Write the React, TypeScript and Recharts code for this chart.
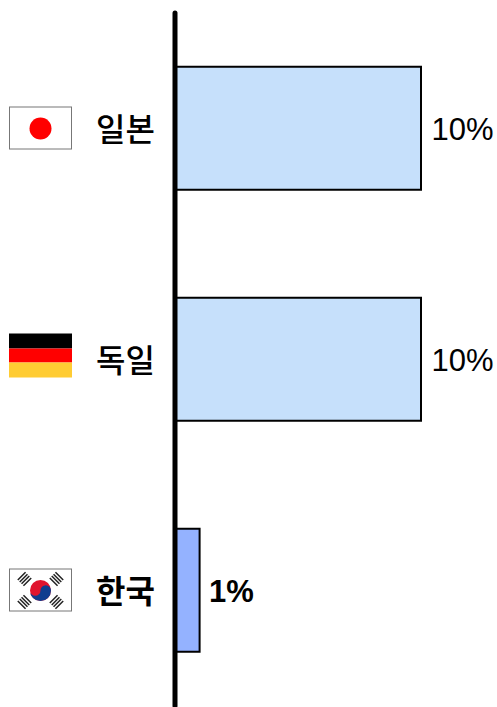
import React from "react";
import { BarChart, Bar, XAxis, YAxis, Cell, LabelList } from "recharts";

const countries = ["일본", "독일", "한국"];
const flagCodes = ["jp", "de", "kr"];
const shares = [10, 10, 1];
const fills = ["#c6e0fb", "#c6e0fb", "#94b2ff"];
const highlighted = "한국";

const data = countries.map((name, i) => ({ name, share: shares[i], flag: flagCodes[i] }));
const FONT = "'Liberation Sans', 'Noto Sans CJK KR', sans-serif";

function Trigram({ cx, cy, angle }: { cx: number; cy: number; angle: number }) {
  return (
    <g transform={`rotate(${angle} ${cx} ${cy})`}>
      {[-4, -1.3, 1.3, 4].map((d) => (
        <line key={d} x1={cx - 5.5} x2={cx + 5.5} y1={cy + d} y2={cy + d} stroke="#222" strokeWidth={1.5} />
      ))}
    </g>
  );
}

function Flag({ code, cy }: { code: string; cy: number }) {
  const x = 9.5;
  const w = 62;
  if (code === "de") {
    const top = cy - 26;
    return (
      <g>
        <rect x={9} y={top} width={63} height={15} fill="#000" />
        <rect x={9} y={top + 15} width={63} height={14} fill="#ff0000" />
        <rect x={9} y={top + 29} width={63} height={15} fill="#ffcc33" />
      </g>
    );
  }
  const top = cy - 21.5;
  const cx = x + w / 2;
  return (
    <g>
      <rect x={x} y={top} width={w} height={42} fill="#fff" stroke="#777" strokeWidth={1} />
      {code === "jp" && <circle cx={cx} cy={cy} r={11} fill="#ff0000" />}
      {code === "kr" && (
        <g>
          <circle cx={cx} cy={cy} r={10.5} fill="#e0142f" />
          <path
            d={`M ${cx - 10.5} ${cy} A 10.5 10.5 0 0 0 ${cx + 10.5} ${cy} A 5.25 5.25 0 0 0 ${cx} ${cy} A 5.25 5.25 0 0 1 ${cx - 10.5} ${cy} Z`}
            fill="#0f3d8f"
          />
          <Trigram cx={cx - 16} cy={cy - 11.5} angle={-45} />
          <Trigram cx={cx + 16} cy={cy - 11.5} angle={45} />
          <Trigram cx={cx - 16} cy={cy + 11.5} angle={45} />
          <Trigram cx={cx + 16} cy={cy + 11.5} angle={-45} />
        </g>
      )}
    </g>
  );
}

function CountryTick(props: any) {
  const { y, payload, index } = props;
  const name = payload.value;
  return (
    <g>
      <Flag code={flagCodes[index]} cy={y} />
      <text
        x={155}
        y={y}
        dy={12}
        textAnchor="end"
        fontFamily={FONT}
        fontSize={32}
        fontWeight={name === highlighted ? 700 : 500}
        fill="#000"
      >
        {name}
      </text>
    </g>
  );
}

function ShareLabel(props: any) {
  const { x, y, width, height, value, index } = props;
  const bold = countries[index] === highlighted;
  return (
    <text
      x={x + width + (bold ? 9.5 : 10.5)}
      y={y + height / 2}
      dy={11.5}
      fontFamily={FONT}
      fontSize={31}
      fontWeight={bold ? 700 : 400}
      fill="#000"
    >
      {`${value}%`}
    </text>
  );
}

export default function App() {
  return (
    <div style={{ position: "absolute", left: 0, top: 0, width: 497, height: 707, background: "#fff" }}>
      <BarChart
        width={497}
        height={707}
        data={data}
        layout="vertical"
        margin={{ top: 13, right: 76, bottom: 1, left: 0 }}
        barCategoryGap="23.3%"
      >
        <XAxis type="number" hide domain={[0, 10]} />
        <Bar dataKey="share" stroke="#000" strokeWidth={2} isAnimationActive={false}>
          {data.map((d, i) => (
            <Cell key={d.name} fill={fills[i]} />
          ))}
          <LabelList dataKey="share" content={ShareLabel} />
        </Bar>
        <YAxis
          type="category"
          dataKey="name"
          width={175}
          tickLine={false}
          tick={CountryTick}
          interval={0}
          axisLine={{ stroke: "#000", strokeWidth: 5, strokeLinecap: "round" }}
        />
      </BarChart>
    </div>
  );
}
